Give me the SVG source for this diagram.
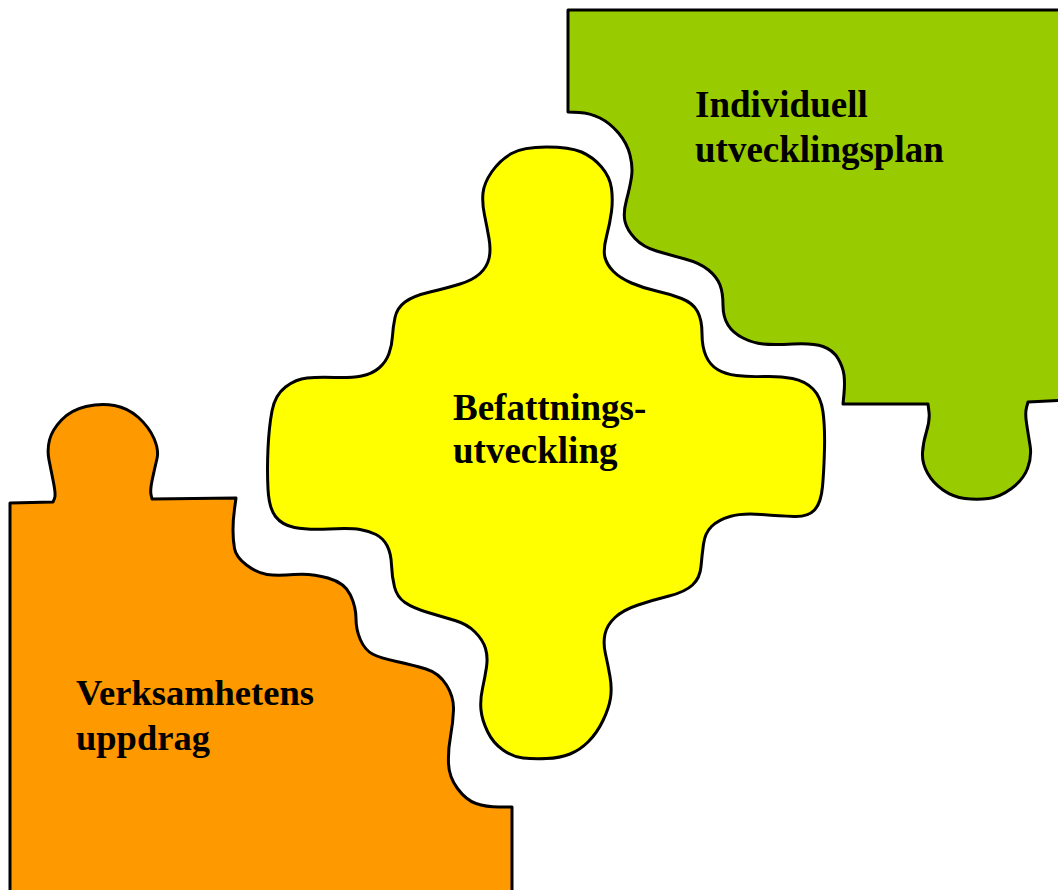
<svg xmlns="http://www.w3.org/2000/svg" width="1058" height="890" viewBox="0 0 1058 890">
<style>
.piece{stroke:#000;stroke-width:3;stroke-linejoin:round}
.lbl{font-family:"Liberation Serif","Times New Roman",serif;font-weight:bold;font-size:37px;fill:#000}
.lbl2{font-size:36.5px}
</style>
<rect width="1058" height="890" fill="#fff"/>
<g id="connectors"></g>
<g id="node-individuell">
<path class="piece" fill="#99CC00" d="M568,10 L1070,10 L1070,400 L1028,402 L1026.5,407.5 Q1025,413 1026.5,423 Q1028,433 1030,445 Q1032,457 1027.5,468.5 Q1023,480 1011.5,488.5 Q1000,497 988.5,498.5 Q977,500 965,498.5 Q953,497 943,490 Q933,483 927.5,473 Q922,463 922.5,453 Q923,443 926.5,431.5 Q930,420 929,412 L928,404 L843,404 L844,393.5 Q845,383 844,375 Q843,367 838,358.5 Q833,350 823,346.5 Q813,343 793,344 Q773,345 763,344 Q753,343 743,338 Q733,333 728,325 Q723,317 723,305 Q723,293 720,285 Q717,277 708.5,270 Q700,263 685,259 Q670,255 656.5,251 Q643,247 635,238.5 Q627,230 625,221.5 Q623,213 626.5,200 Q630,187 631.5,177 Q633,167 630,155 Q627,143 618.5,133 Q610,123 600,118 Q590,113 579,112.5 L568,112 Z"/>
<text class="lbl" x="695" y="117">Individuell</text>
<text class="lbl" x="695" y="162">utvecklingsplan</text>
</g>
<g id="node-befattning">
<path class="piece" fill="#FFFF00" d="M511.5,153.5 Q523,147 546.5,147 Q570,147 581.5,152 Q593,157 601.5,167 Q610,177 611.5,188.5 Q613,200 611.5,211.5 Q610,223 606.5,236.5 Q603,250 605,257.5 Q607,265 613.5,271.5 Q620,278 631.5,283 Q643,288 656.5,291 Q670,294 681.5,298.5 Q693,303 697.5,311.5 Q702,320 702,333.5 Q702,347 706,356 Q710,365 717.5,369.5 Q725,374 736.5,375.5 Q748,377 764,376.5 Q780,376 792.5,378.5 Q805,381 813,389 Q821,397 823,412 Q825,427 824.5,448.5 Q824,470 822.5,486.5 Q821,503 814.5,510 Q808,517 794,516.5 Q780,516 761,514.5 Q742,513 730,516.5 Q718,520 711.5,526.5 Q705,533 703.5,544 Q702,555 701,566.5 Q700,578 692.5,585 Q685,592 669,596 Q653,600 638,605 Q623,610 615,617.5 Q607,625 605,634 Q603,643 605.5,654 Q608,665 610,676.5 Q612,688 610.5,698 Q609,708 603,720.5 Q597,733 588.5,741.5 Q580,750 570,754 Q560,758 546.5,758.5 Q533,759 523,758 Q513,757 503,750 Q493,743 487.5,731.5 Q482,720 481,710 Q480,700 482.5,688.5 Q485,677 486.5,667 Q488,657 485.5,648.5 Q483,640 475,632 Q467,624 455,620.5 Q443,617 428,612.5 Q413,608 405,602.5 Q397,597 394.5,587 Q392,577 391.5,565 Q391,553 387,545.5 Q383,538 376,534.5 Q369,531 360,529.5 Q351,528 329,529 Q307,530 294.5,527.5 Q282,525 275.5,516.5 Q269,508 268,489 Q267,470 268,448.5 Q269,427 272,411 Q275,395 285.5,387 Q296,379 307,378 Q318,377 334.5,377.5 Q351,378 361.5,376 Q372,374 379,368 Q386,362 389,353.5 Q392,345 392.5,336 Q393,327 395,317.5 Q397,308 405,302 Q413,296 430,292 Q447,288 460,284 Q473,280 480,273.5 Q487,267 489,258.5 Q491,250 489,238.5 Q487,227 484.5,215 Q482,203 483,193 Q484,183 492,171.5 Q500,160 511.5,153.5 Z"/>
<text class="lbl" x="453" y="420">Befattnings-</text>
<text class="lbl" x="453" y="463">utveckling</text>
</g>
<g id="node-verksamhet">
<path class="piece" fill="#FF9900" d="M10,900 L10,503 L53,502 L54.5,498.5 Q56,495 53.5,482.5 Q51,470 49,460 Q47,450 49.5,440 Q52,430 61.5,420 Q71,410 86,406.5 Q101,403 114.5,405.5 Q128,408 138.5,417.5 Q149,427 154,438.5 Q159,450 157,458.5 Q155,467 152.5,478.5 Q150,490 151,494.5 L152,499 L236,498 L234.5,509 Q233,520 233,530 Q233,540 234.5,548.5 Q236,557 246.5,565 Q257,573 267,574.5 Q277,576 294,574.5 Q311,573 328,578 Q345,583 350.5,595 Q356,607 356,618.5 Q356,630 360.5,640 Q365,650 372.5,654 Q380,658 396.5,661.5 Q413,665 426,669 Q439,673 446.5,685 Q454,697 453.5,710 Q453,723 450.5,736.5 Q448,750 448.5,763.5 Q449,777 457.5,788.5 Q466,800 476,803.5 Q486,807 499,807 L512,807 L512,900 Z"/>
<text class="lbl lbl2" x="76" y="705">Verksamhetens</text>
<text class="lbl lbl2" x="76" y="750">uppdrag</text>
</g>
</svg>
